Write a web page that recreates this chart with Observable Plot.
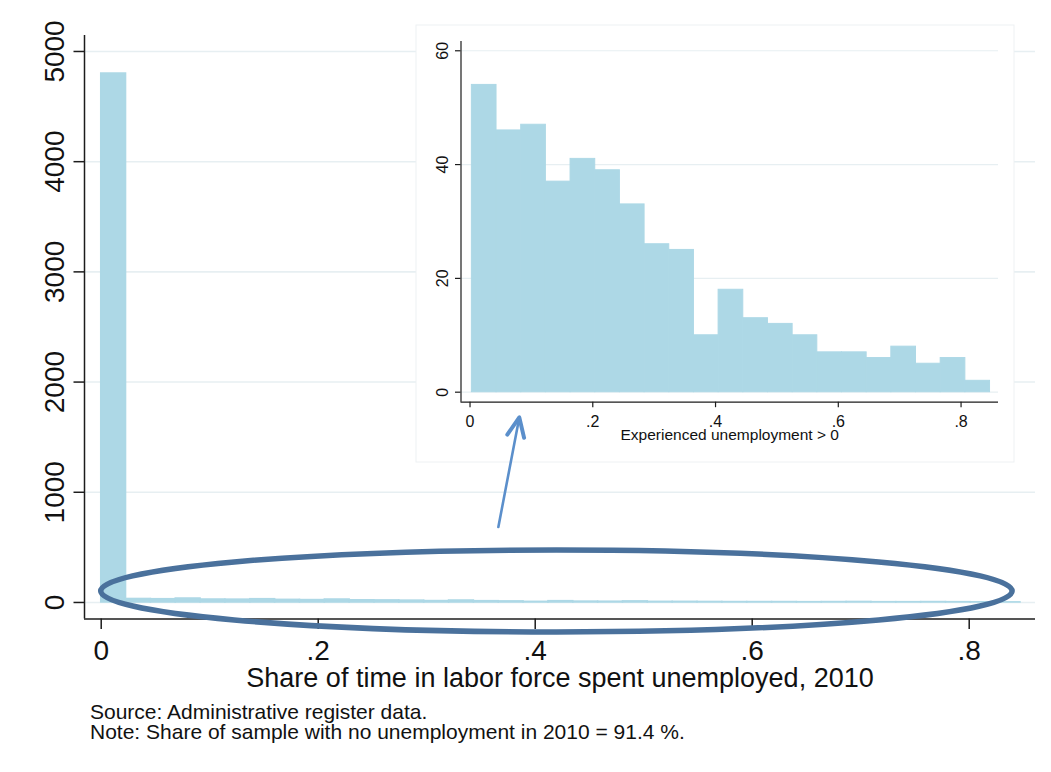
<!DOCTYPE html>
<html>
<head>
<meta charset="utf-8">
<script src="https://cdn.jsdelivr.net/npm/d3@7"></script>
<script src="https://cdn.jsdelivr.net/npm/@observablehq/plot@0.6"></script>
<style>
  body { margin: 0; background: #fff; }
  #chart { position: relative; width: 1051px; height: 772px; font-family: "Liberation Sans", Arial, sans-serif; }
  #caption { position: absolute; left: 90px; top: 702px; font-size: 21px; line-height: 20px; color: #111; white-space: nowrap; }
</style>
</head>
<body>
<div id="chart"></div>
<script>
// Histogram of the share of time in the labour force spent unemployed, 2010
const mainBinStart = 0;
const mainBinWidth = 0.0229;
const mainCounts = [4800, 32, 30, 36, 27, 26, 30, 24, 22, 27, 20, 19, 17, 13, 18, 12, 10, 6, 12, 8,
                    7, 10, 6, 6, 5, 4, 4, 4, 3, 4, 5, 3, 3, 4, 3, 2, 1];

// Inset histogram: only those who experienced some unemployment
const insetBinStart = 0.003;
const insetBinWidth = 0.0402;
const insetCounts = [54, 46, 47, 37, 41, 39, 33, 26, 25, 10, 18, 13, 12, 10, 7, 7, 6, 8, 5, 6, 2];

// Ticks and labels
const mainXTicks = [0, 0.2, 0.4, 0.6, 0.8];
const mainXLabels = ["0", ".2", ".4", ".6", ".8"];
const mainYTicks = [0, 1000, 2000, 3000, 4000, 5000];
const mainYLabels = ["0", "1000", "2000", "3000", "4000", "5000"];
const insetXTicks = [0, 0.2, 0.4, 0.6, 0.8];
const insetXLabels = ["0", ".2", ".4", ".6", ".8"];
const insetYTicks = [0, 20, 40, 60];
const insetYLabels = ["0", "20", "40", "60"];

const xTitle = "Share of time in labor force spent unemployed, 2010";
const insetTitle = "Experienced unemployment > 0";
const captionLines = [
  "Source: Administrative register data.",
  "Note: Share of sample with no unemployment in 2010 = 91.4 %."
];

// Annotation (main-chart data units): ellipse round the low bars, arrow up to the inset
const ellipseCenter = {x: 0.42, y: 100};
const ellipseRadius = {x: 0.42, y: 372};
const arrowFrom = {x: 0.3665, y: 680};
const arrowTo = {x: 0.3858, y: 1675};

// ---- layout and style ----
const FONT = "'Liberation Sans', Arial, Helvetica, sans-serif";
const BAR = "#add8e6";
const GRID = "#e7eff2";
const AXIS = "#1c1c1c";
const INK = "#111";

const W = 1051, H = 700;
const mainFrame = {left: 84, right: 1035, top: 35, bottom: 618.5};
const mainXDomain = [-0.0154, 0.8611];
const mainYDomain = [-150, 5145];

const insetBox = {x: 416, y: 25, width: 598, height: 437};
const insetFrame = {left: 44.5, right: 582, top: 16, bottom: 376.7};
const insetXDomain = [-0.0147, 0.861];
const insetYDomain = [-1.76, 61.63];

function bins(start, width, counts) {
  return counts.map((c, i) => ({x1: start + i * width, x2: start + (i + 1) * width, count: c}));
}

// data units per pixel for a domain drawn between two pixel positions
function perPx(domain, lo, hi) { return (domain[1] - domain[0]) / (hi - lo); }

function histogramPlot(o) {
  const xmin = o.xDomain[0], ymin = o.yDomain[0];
  const tx = o.tick * perPx(o.xDomain, o.frame.left, o.frame.right);
  const ty = o.tick * perPx(o.yDomain, o.frame.top, o.frame.bottom);
  return Plot.plot({
    width: o.width, height: o.height,
    marginLeft: o.frame.left, marginRight: o.width - o.frame.right,
    marginTop: o.frame.top, marginBottom: o.height - o.frame.bottom,
    x: {domain: o.xDomain, axis: null},
    y: {domain: o.yDomain, axis: null},
    style: {fontFamily: FONT, background: "transparent", color: INK, overflow: "visible"},
    marks: [
      Plot.ruleY(o.yTicks, {stroke: GRID, strokeWidth: o.gridWidth}),
      Plot.rectY(o.bins, {x1: "x1", x2: "x2", y: "count", fill: BAR, stroke: BAR, strokeWidth: o.barStroke}),
      Plot.ruleX([xmin], {stroke: AXIS, strokeWidth: o.axisWidth}),
      Plot.ruleY([ymin], {stroke: AXIS, strokeWidth: o.axisWidth}),
      Plot.ruleY(o.yTicks, {x1: xmin - tx, x2: xmin, stroke: AXIS, strokeWidth: o.axisWidth}),
      Plot.ruleX(o.xTicks, {y1: ymin - ty, y2: ymin, stroke: AXIS, strokeWidth: o.axisWidth}),
      Plot.text(o.yTicks, {
        x: xmin, y: d => d, text: (d, i) => o.yLabels[i],
        rotate: -90, textAnchor: "middle", lineAnchor: "bottom",
        dx: o.yLabelDx, fontSize: o.tickFont, fill: INK
      }),
      Plot.text(o.xTicks, {
        x: d => d, y: ymin, text: (d, i) => o.xLabels[i],
        textAnchor: "middle", lineAnchor: "top",
        dy: o.xLabelDy, fontSize: o.tickFont, fill: INK
      }),
      Plot.text([o.title], {
        text: d => d, frameAnchor: "bottom", lineAnchor: "bottom",
        dy: o.titleDy, fontSize: o.titleFont, fill: INK
      })
    ]
  });
}

const mainPlot = histogramPlot({
  width: W, height: H, frame: mainFrame,
  xDomain: mainXDomain, yDomain: mainYDomain,
  bins: bins(mainBinStart, mainBinWidth, mainCounts),
  xTicks: mainXTicks, xLabels: mainXLabels, yTicks: mainYTicks, yLabels: mainYLabels,
  title: xTitle,
  tick: 10.5, gridWidth: 1.6, barStroke: 1.5, axisWidth: 1.5,
  tickFont: 28, titleFont: 27, yLabelDx: -21, xLabelDy: 21, titleDy: 68
});

const insetPlot = histogramPlot({
  width: insetBox.width, height: insetBox.height, frame: insetFrame,
  xDomain: insetXDomain, yDomain: insetYDomain,
  bins: bins(insetBinStart, insetBinWidth, insetCounts),
  xTicks: insetXTicks, xLabels: insetXLabels, yTicks: insetYTicks, yLabels: insetYLabels,
  title: insetTitle,
  tick: 5.5, gridWidth: 1.2, barStroke: 1, axisWidth: 1.2,
  tickFont: 16, titleFont: 15.5, yLabelDx: -13.5, xLabelDy: 13, titleDy: 38
});

const chart = document.getElementById("chart");
chart.appendChild(mainPlot);

const svg = d3.select(mainPlot);

// white panel behind the inset graph
svg.append("rect")
  .attr("x", insetBox.x).attr("y", insetBox.y)
  .attr("width", insetBox.width).attr("height", insetBox.height)
  .attr("fill", "#fff").attr("stroke", "#eef1f3").attr("stroke-width", 1);

// nest the inset graph inside the main svg at its fixed size
insetPlot.setAttribute("x", insetBox.x);
insetPlot.setAttribute("y", insetBox.y);
insetPlot.style.width = insetBox.width + "px";
insetPlot.style.height = insetBox.height + "px";
insetPlot.style.maxWidth = "none";
mainPlot.appendChild(insetPlot);

// annotation drawn through the main chart's scales
const sx = mainPlot.scale("x"), sy = mainPlot.scale("y");
const cx = sx.apply(ellipseCenter.x), cy = sy.apply(ellipseCenter.y);
svg.append("ellipse")
  .attr("cx", cx).attr("cy", cy)
  .attr("rx", sx.apply(ellipseCenter.x + ellipseRadius.x) - cx)
  .attr("ry", cy - sy.apply(ellipseCenter.y + ellipseRadius.y))
  .attr("fill", "none").attr("stroke", "#4a719c").attr("stroke-width", 5.5);

const ax0 = sx.apply(arrowFrom.x), ay0 = sy.apply(arrowFrom.y);
const ax1 = sx.apply(arrowTo.x), ay1 = sy.apply(arrowTo.y);
const ang = Math.atan2(ay1 - ay0, ax1 - ax0);
const headLen = 21, headSpread = 24 * Math.PI / 180;
const arrow = svg.append("g")
  .attr("stroke", "#5b8fcb").attr("fill", "none").attr("stroke-linecap", "round");
arrow.append("line")
  .attr("x1", ax0).attr("y1", ay0).attr("x2", ax1).attr("y2", ay1)
  .attr("stroke-width", 2.6);
arrow.append("path")
  .attr("d", `M${ax1 - headLen * Math.cos(ang - headSpread)},${ay1 - headLen * Math.sin(ang - headSpread)}`
           + `L${ax1},${ay1}`
           + `L${ax1 - headLen * Math.cos(ang + headSpread)},${ay1 - headLen * Math.sin(ang + headSpread)}`)
  .attr("stroke-width", 4).attr("stroke-linejoin", "round");

// caption under the chart
const cap = document.createElement("div");
cap.id = "caption";
captionLines.forEach(t => {
  const line = document.createElement("div");
  line.textContent = t;
  cap.appendChild(line);
});
chart.appendChild(cap);
</script>
</body>
</html>
